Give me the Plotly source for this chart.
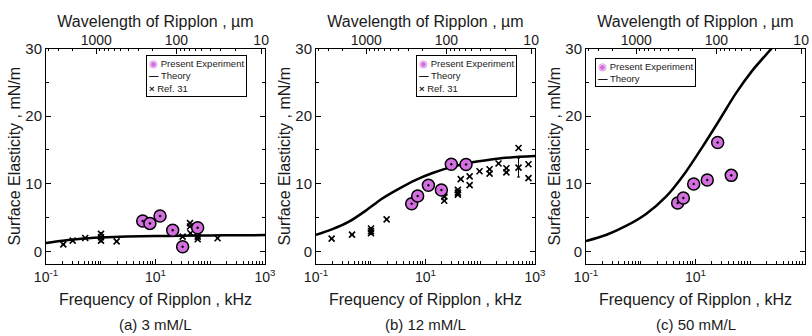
import numpy as np
import plotly.graph_objects as go

W, H = 812, 336

# ---------------- data ----------------
# Panel (a) 3 mM/L
a_exp_f = [5.84, 7.9, 12.1, 20.6, 31.3, 58.9]
a_exp_e = [4.5, 4.15, 5.25, 3.15, 0.7, 3.5]
a_th_f = [0.1, 0.2, 0.4, 1, 3, 10, 30, 100, 300, 1000]
a_th_e = [1.25, 1.6, 1.85, 2.05, 2.2, 2.28, 2.33, 2.37, 2.4, 2.42]
a_ref_f = [0.207, 0.307, 0.52, 1.01, 1.01, 1.01, 1.95, 31.3, 42.7, 42.7, 43.5, 59, 59, 136]
a_ref_e = [1.05, 1.6, 2.0, 2.6, 2.1, 1.6, 1.5, 2.2, 4.2, 3.7, 2.7, 2.2, 1.8, 1.95]
a_ref_err = [0, 0, 0, 0, 0.7, 0, 0, 0, 0, 0, 0, 0, 0, 0]

# Panel (b) 12 mM/L
b_exp_f = [5.59, 7.19, 11.3, 19.5, 29.6, 55]
b_exp_e = [7.06, 8.2, 9.78, 9.08, 12.9, 12.85]
b_th_f = [0.1, 0.2, 0.4, 0.8, 1.6, 3.3, 6.7, 13.5, 27, 55, 110, 257, 1000]
b_th_e = [2.45, 3.3, 4.4, 6.0, 7.8, 9.3, 10.6, 11.6, 12.4, 13.0, 13.4, 13.8, 14.1]
b_ref_f = [0.193, 0.455, 1.01, 1.01, 1.01, 1.95, 22, 22, 22, 39, 39, 39, 44, 64, 64,
           97, 148, 148, 216, 300, 300, 500, 500, 760, 760]
b_ref_e = [1.9, 2.5, 3.4, 3.0, 2.7, 4.75, 8.7, 8.1, 7.5, 9.1, 8.7, 8.4, 10.7, 11.1, 9.8,
           11.85, 12.15, 11.5, 13.0, 12.3, 11.7, 15.3, 12.4, 12.9, 10.85]
b_ref_err = [0, 0, 0, 0.5, 0, 0, 0, 0, 0, 0, 0, 0, 0, 0, 0,
             0, 0, 0, 0, 0, 0, 0, 1.4, 0, 0]

# Panel (c) 50 mM/L
c_exp_f = [4.72, 6.0, 9.27, 16.4, 25.4, 45]
c_exp_e = [7.16, 7.9, 9.97, 10.56, 16.1, 11.25]
c_th_f = [0.1, 0.232, 0.538, 1.25, 2.89, 6.7, 13.5, 27.2, 55, 110.7, 257, 500]
c_th_e = [1.55, 2.44, 3.77, 5.54, 8.1, 11.8, 15.5, 19.4, 23.4, 26.8, 30.2, 33.0]

# axis ticks
freq_tickvals = [0.1, 10, 1000]
freq_ticktext = ["10<sup>-1</sup>", "10<sup>1</sup>", "10<sup>3</sup>"]
wl_ticktext = ["1000", "100", "10"]
wl_tick_um = [1000, 100, 10]
wl_tick_freq = [0.83, 24, 850]          # frequency (kHz) at which each wavelength tick sits
wl_minor_um = [4000, 3000, 2000, 900, 800, 700, 600, 500, 400, 300, 200,
               90, 80, 70, 60, 50, 40, 30, 20]
y_tickvals = [0, 10, 20, 30]
y_minor = [5, 15, 25]

panel_labels = ["(a) 3 mM/L", "(b) 12 mM/L", "(c) 50 mM/L"]
legend_names = ["Present Experiment", "Theory", "Ref. 31"]

# ---------------- style ----------------
FONT = "Liberation Sans, Arial, sans-serif"
TXT = "#1a1a1a"
MAG = "#d46fe0"

lg_um = np.log10(wl_tick_um[::-1])
lg_f = np.log10(wl_tick_freq[::-1])
def wl_to_f(um):
    x = np.log10(um)
    if x > lg_um[-1]:
        s = (lg_f[-1] - lg_f[-2]) / (lg_um[-1] - lg_um[-2])
        return 10 ** (lg_f[-1] + s * (x - lg_um[-1]))
    return 10 ** np.interp(x, lg_um, lg_f)
wl_minor_f = [float(wl_to_f(u)) for u in wl_minor_um]
freq_minor = [m * 10 ** d for d in range(-1, 3) for m in range(1, 10) if not (m == 1 and d in (-1, 1))]

px_left = [46, 316, 586]
px_w = 219
py_top, py_bot = 48.5, 264

fig = go.Figure()
layout = dict(
    width=W, height=H,
    margin=dict(l=0, r=0, t=0, b=0),
    paper_bgcolor="white", plot_bgcolor="white",
    font=dict(family=FONT, color=TXT, size=14),
    showlegend=False,
    annotations=[],
)

panels = [
    (a_exp_f, a_exp_e, a_th_f, a_th_e, a_ref_f, a_ref_e, a_ref_err),
    (b_exp_f, b_exp_e, b_th_f, b_th_e, b_ref_f, b_ref_e, b_ref_err),
    (c_exp_f, c_exp_e, c_th_f, c_th_e, None, None, None),
]
legend_pos = [(146, 55), (416, 55), (595, 58)]

for i, (ef, ee, tf, te, rf, re_, rerr) in enumerate(panels):
    xb = f"x{2*i+1}" if i > 0 else "x"
    xt = f"x{2*i+2}"
    yb = f"y{i+1}" if i > 0 else "y"
    xb_name = "xaxis" + (str(2*i+1) if i > 0 else "")
    xt_name = "xaxis" + str(2*i+2)
    y_name = "yaxis" + (str(i+1) if i > 0 else "")

    dom_x = [px_left[i] / W, (px_left[i] + px_w) / W]
    dom_y = [1 - py_bot / H, 1 - py_top / H]

    fig.add_trace(go.Scatter(
        x=tf, y=te, xaxis=xb, yaxis=yb, mode="lines", name="Theory",
        line=dict(color="black", width=2.5, shape="spline", smoothing=0.8),
    ))
    if rf is not None:
        fig.add_trace(go.Scatter(
            x=rf, y=re_, xaxis=xb, yaxis=yb, mode="markers", name="Ref. 31",
            marker=dict(symbol="x-thin", size=6, color="black", line=dict(color="black", width=1.6)),
            error_y=dict(type="data", array=rerr, color="black", thickness=1, width=1.5),
        ))
    fig.add_trace(go.Scatter(
        x=ef, y=ee, xaxis=xb, yaxis=yb, mode="markers", name="Present Experiment",
        marker=dict(symbol="circle-dot", size=12, color=MAG, line=dict(color="black", width=1.5)),
    ))
    # empty trace so the top (wavelength) axis is drawn
    fig.add_trace(go.Scatter(x=[], y=[], xaxis=xt, yaxis=yb, mode="markers",
                             hoverinfo="skip", showlegend=False))

    layout[xb_name] = dict(
        domain=dom_x, anchor=yb, type="log", range=[-1, 3], automargin=False,
        showline=True, linecolor="black", linewidth=1, mirror=True,
        ticks="inside", ticklen=5, tickcolor="black",
        tickvals=freq_tickvals, ticktext=freq_ticktext,
        tickfont=dict(size=14, color=TXT),
        minor=dict(tickvals=freq_minor, ticks="inside", ticklen=3, tickcolor="black", showgrid=False),
        showgrid=False, zeroline=False,
        title=dict(text="Frequency of Ripplon , kHz", font=dict(size=16, color=TXT), standoff=10),
    )
    layout[xt_name] = dict(
        overlaying=xb, anchor=yb, side="top", type="log", range=[-1, 3], automargin=False,
        showline=False, ticks="inside", ticklen=5, tickcolor="black",
        tickvals=wl_tick_freq, ticktext=wl_ticktext,
        tickfont=dict(size=14, color=TXT),
        minor=dict(tickvals=wl_minor_f, ticks="inside", ticklen=2.5, tickcolor="black", showgrid=False),
        showgrid=False, zeroline=False,
        title=dict(text="Wavelength of Ripplon , µm", font=dict(size=16, color=TXT), standoff=0),
    )
    layout[y_name] = dict(
        domain=dom_y, anchor=xb, range=[-1.85, 30], automargin=False,
        showline=True, linecolor="black", linewidth=1, mirror="ticks",
        ticks="inside", ticklen=5, tickcolor="black",
        tickvals=y_tickvals, tickfont=dict(size=15, color=TXT),
        minor=dict(tickvals=y_minor, ticks="inside", ticklen=3, tickcolor="black", showgrid=False),
        showgrid=False, zeroline=False,
        title=dict(text="Surface Elasticity , mN/m", font=dict(size=16, color=TXT), standoff=0),
    )

    # compact legend box
    names = legend_names if rf is not None else legend_names[:2]
    symbols = [f"<span style='color:{MAG}'>◉</span>", "<b>—</b>", "<b>×</b>"]
    legend_text = "<br>".join(f"{s} {n}" for s, n in zip(symbols, names))
    lx, ly = legend_pos[i]
    layout["annotations"].append(dict(
        text=legend_text, x=lx / W, y=1 - ly / H, xref="paper", yref="paper",
        xanchor="left", yanchor="top", align="left", showarrow=False,
        bgcolor="white", bordercolor="black", borderwidth=1, borderpad=2,
        font=dict(size=9.5, color=TXT),
    ))
    layout["annotations"].append(dict(
        text=panel_labels[i], x=(px_left[i] + px_w / 2) / W, y=1 - 324 / H,
        xref="paper", yref="paper", showarrow=False, xanchor="center", yanchor="middle",
        font=dict(size=15, color=TXT),
    ))

fig.update_layout(**layout)
fig.write_html("out.html")
